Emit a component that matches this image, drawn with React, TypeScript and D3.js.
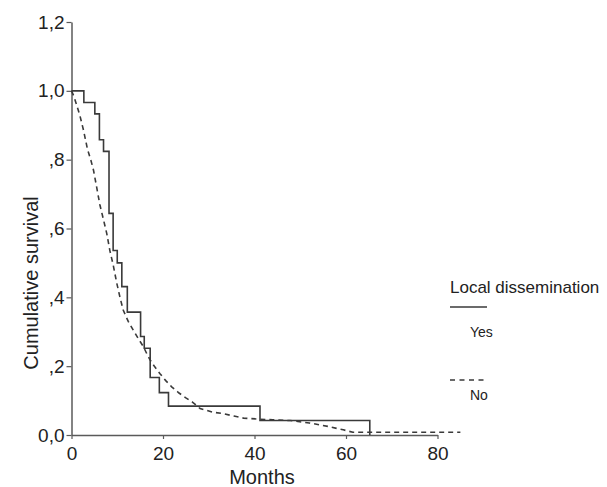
import React, { useEffect, useRef } from "react";
import * as d3 from "d3";

// Kaplan-Meier curves
const yesMonths = [0, 2.7, 5.1, 6.1, 7.0, 8.2, 9.1, 10.0, 11.0, 12.2, 15.1, 15.9, 17.2, 19.2, 21.2, 41.2, 65.2];
const yesSurvival = [1.0, 0.966, 0.933, 0.858, 0.824, 0.644, 0.536, 0.5, 0.431, 0.357, 0.286, 0.252, 0.167, 0.123, 0.084, 0.042, 0];

const noMonths = [0, 0.5, 1.0, 1.8, 2.6, 3.5, 4.2, 4.8, 5.5, 6.2, 7.0, 7.7, 8.4, 9.1, 9.9, 10.6, 11.3, 12.4, 13.5, 14.6, 15.7, 16.5, 17.2, 18.2, 19.3, 20.6, 21.9, 23.5, 25.0, 26.5, 28.1, 31.0, 33.2, 35.5, 37.6, 41.2, 44.0, 47.8, 52.0, 56.0, 59.4, 61.5, 85.0];
const noSurvival = [1.0, 0.985, 0.964, 0.93, 0.887, 0.83, 0.8, 0.77, 0.72, 0.669, 0.625, 0.586, 0.535, 0.495, 0.441, 0.4, 0.363, 0.33, 0.305, 0.28, 0.257, 0.235, 0.218, 0.198, 0.179, 0.158, 0.14, 0.122, 0.108, 0.095, 0.077, 0.066, 0.062, 0.055, 0.049, 0.046, 0.044, 0.042, 0.035, 0.025, 0.015, 0.008, 0.008];

const xTicks = [0, 20, 40, 60, 80];
const yTicks = [0, 0.2, 0.4, 0.6, 0.8, 1.0, 1.2];
const yTickLabels = ["0,0", ",2", ",4", ",6", ",8", "1,0", "1,2"];

const App = () => {
  const svgRef = useRef<SVGSVGElement>(null);

  useEffect(() => {
    const width = 607;
    const height = 487;
    const font = "'Liberation Sans', Arial, sans-serif";
    const svg = d3.select(svgRef.current).attr("width", width).attr("height", height);
    svg.selectAll("*").remove();

    const x = d3.scaleLinear().domain([0, 80]).range([71.5, 437.5]);
    const y = d3.scaleLinear().domain([0, 1.2]).range([435, 22]);

    const axisColor = "#5a5a5a";
    const lineColor = "#3a3a3a";

    // axes
    const xAxis = svg.append("g")
      .attr("transform", `translate(0,${y(0)})`)
      .call(d3.axisBottom(x).tickValues(xTicks).tickSize(4).tickSizeOuter(0));
    xAxis.select(".domain").attr("stroke", axisColor).attr("stroke-width", 1.5);
    xAxis.selectAll(".tick line").attr("stroke", axisColor).attr("stroke-width", 1.2);
    xAxis.selectAll(".tick text")
      .attr("font-family", font).attr("font-size", 19).attr("fill", "#222").attr("dy", "0.95em");

    const yAxis = svg.append("g")
      .attr("transform", `translate(${x(0)},0)`)
      .call(d3.axisLeft(y).tickValues(yTicks).tickSize(5).tickSizeOuter(0)
        .tickFormat((d, i) => yTickLabels[i]));
    yAxis.select(".domain").attr("stroke", axisColor).attr("stroke-width", 1.5);
    yAxis.selectAll(".tick line").attr("stroke", axisColor).attr("stroke-width", 1.2);
    yAxis.selectAll(".tick text")
      .attr("font-family", font).attr("font-size", 19).attr("fill", "#222").attr("x", -7);

    // curves
    const yesData = yesMonths.map((m, i) => [m, yesSurvival[i]] as [number, number]);
    const noData = noMonths.map((m, i) => [m, noSurvival[i]] as [number, number]);

    const stepLine = d3.line<[number, number]>().x(d => x(d[0])).y(d => y(d[1])).curve(d3.curveStepAfter);
    const smoothLine = d3.line<[number, number]>().x(d => x(d[0])).y(d => y(d[1])).curve(d3.curveLinear);

    svg.append("path")
      .attr("d", smoothLine(noData))
      .attr("fill", "none").attr("stroke", lineColor).attr("stroke-width", 1.6)
      .attr("stroke-dasharray", "5,4");

    svg.append("path")
      .attr("d", stepLine(yesData))
      .attr("fill", "none").attr("stroke", lineColor).attr("stroke-width", 1.6);

    // axis titles
    svg.append("text")
      .attr("x", 262).attr("y", 484)
      .attr("text-anchor", "middle")
      .attr("font-family", font).attr("font-size", 20).attr("fill", "#222")
      .text("Months");

    svg.append("text")
      .attr("transform", `translate(38,283) rotate(-90)`)
      .attr("text-anchor", "middle")
      .attr("font-family", font).attr("font-size", 20).attr("fill", "#222")
      .text("Cumulative survival");

    // legend
    const legend = svg.append("g");
    legend.append("text")
      .attr("x", 450).attr("y", 293)
      .attr("font-family", font).attr("font-size", 17).attr("fill", "#222")
      .text("Local dissemination");
    legend.append("line")
      .attr("x1", 450).attr("x2", 487).attr("y1", 307).attr("y2", 307)
      .attr("stroke", lineColor).attr("stroke-width", 1.6);
    legend.append("text")
      .attr("x", 470).attr("y", 337)
      .attr("font-family", font).attr("font-size", 14).attr("fill", "#222")
      .text("Yes");
    legend.append("line")
      .attr("x1", 450).attr("x2", 487).attr("y1", 380).attr("y2", 380)
      .attr("stroke", lineColor).attr("stroke-width", 1.6)
      .attr("stroke-dasharray", "5,4.5");
    legend.append("text")
      .attr("x", 470).attr("y", 400)
      .attr("font-family", font).attr("font-size", 14).attr("fill", "#222")
      .text("No");
  }, []);

  return <svg ref={svgRef} style={{ position: "absolute", left: 0, top: 0, background: "#fff" }}></svg>;
};

export default App;
